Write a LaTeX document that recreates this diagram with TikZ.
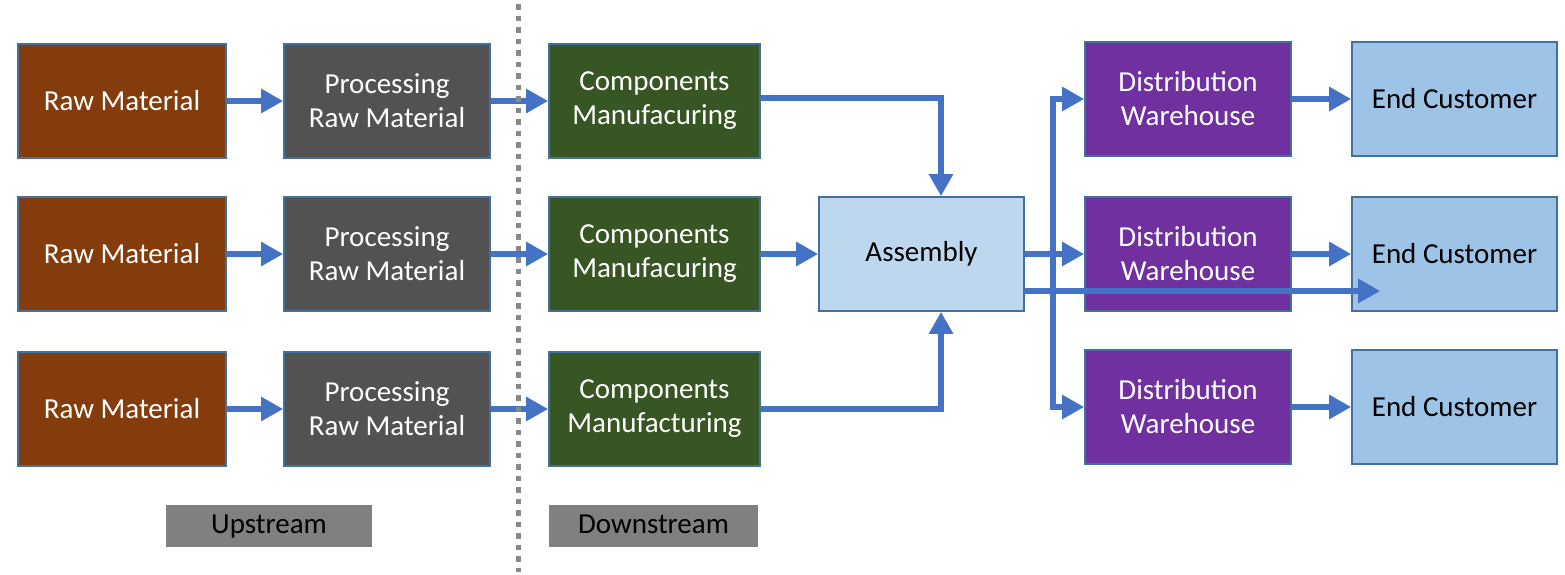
\documentclass[tikz,border=0pt]{standalone}
\usepackage{fontspec}
\setmainfont{Carlito}
\usetikzlibrary{arrows.meta}

\definecolor{rawfill}{HTML}{843C0C}
\definecolor{procfill}{HTML}{525252}
\definecolor{compfill}{HTML}{375623}
\definecolor{asmfill}{HTML}{BDD7EE}
\definecolor{distfill}{HTML}{7030A0}
\definecolor{custfill}{HTML}{9DC3E6}
\definecolor{edgeblue}{HTML}{41719C}
\definecolor{flowblue}{HTML}{4472C4}
\definecolor{tagfill}{HTML}{808080}
\definecolor{divider}{HTML}{888888}

\begin{document}
\begin{tikzpicture}[x=1pt,y=-1pt,
  stage/.style={draw=edgeblue, line width=1.6pt, inner sep=0pt,
    minimum height=114pt, align=center, text=white,
    font=\fontsize{29}{34}\selectfont},
  rawbox/.style={stage, fill=rawfill, minimum width=208pt},
  procbox/.style={stage, fill=procfill, minimum width=206pt},
  compbox/.style={stage, fill=compfill, minimum width=211pt},
  asmbox/.style={stage, fill=asmfill, minimum width=205pt, text=black},
  distbox/.style={stage, fill=distfill, minimum width=206pt},
  custbox/.style={stage, fill=custfill, minimum width=205pt, text=black},
  tagbox/.style={fill=tagfill, inner sep=0pt, minimum height=42pt,
    text height=20pt, text depth=6pt,
    text=black, font=\fontsize{29}{34}\selectfont},
  flow/.style={draw=flowblue, line width=6pt,
    -{Triangle[length=22pt,width=23pt]}}
]
\useasboundingbox (0,0) rectangle (1565,574);

% supply side
\node[rawbox] (raw1) at (122,101) {Raw Material};
\node[rawbox] (raw2) at (122,254) {Raw Material};
\node[rawbox] (raw3) at (122,409) {Raw Material};

\node[procbox] (proc1) at (387,101) {Processing\\Raw Material};
\node[procbox] (proc2) at (387,254) {Processing\\Raw Material};
\node[procbox] (proc3) at (387,409) {Processing\\Raw Material};

\node[compbox] (comp1) at (654.5,101) {Components\\Manufacuring};
\node[compbox] (comp2) at (654.5,254) {Components\\Manufacuring};
\node[compbox] (comp3) at (654.5,409) {Components\\Manufacturing};

\node[asmbox] (asm) at (921.5,254) {Assembly};

% demand side
\node[distbox] (dist1) at (1188,99) {Distribution\\Warehouse};
\node[distbox] (dist2) at (1188,254) {Distribution\\Warehouse};
\node[distbox] (dist3) at (1188,407) {Distribution\\Warehouse};

\node[custbox] (cust1) at (1454.5,99) {End Customer};
\node[custbox] (cust2) at (1454.5,254) {End Customer};
\node[custbox] (cust3) at (1454.5,407) {End Customer};

\node[tagbox, minimum width=206pt] (up) at (269,526) {Upstream};
\node[tagbox, minimum width=209pt] (down) at (653.5,526) {Downstream};

% flows
\foreach \i in {1,2,3} {
  \draw[flow] (raw\i) -- (proc\i);
  \draw[flow] (proc\i) -- (comp\i);
  \draw[flow] (dist\i) -- (cust\i);
}
\coordinate (merge) at (941,0);
\draw[flow] ([yshift=3pt]comp1.east) -| (merge |- asm.north);
\draw[flow] (comp2) -- (asm);
\draw[flow] (comp3.east) -| (merge |- asm.south);

\draw[flow] (asm.east) -- (dist2.west);
\coordinate (split) at (1053,254);
\draw[flow] (split) |- (dist1.west);
\draw[flow] (split) |- (dist3.west);
\draw[flow] ([yshift=-37pt]asm.east) -- ([xshift=29pt,yshift=-37pt]cust2.west);

% upstream / downstream divider
\coordinate (divtop) at (518,4);
\coordinate (divbot) at (518,572);
\draw[divider, line width=5pt, dash pattern=on 5.5pt off 6pt] (divtop) -- (divbot);
\end{tikzpicture}
\end{document}
